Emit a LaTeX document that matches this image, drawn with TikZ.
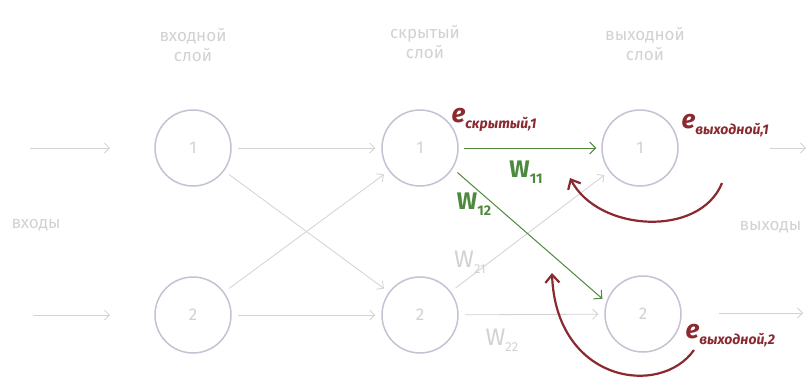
\documentclass[tikz,border=0pt]{standalone}
\usepackage{fontspec}
\setmainfont{Fira Sans}
\usetikzlibrary{arrows.meta,positioning}
\definecolor{fadegray}{HTML}{D2D2D2}
\definecolor{ringgray}{HTML}{C6C2D4}
\definecolor{wgreen}{HTML}{4E8A3E}
\definecolor{errred}{HTML}{8A2A30}
\newcommand{\lowsub}[3]{#1\raisebox{-6pt}{\fontsize{#3}{#3}\selectfont #2}}

\begin{document}
\begin{tikzpicture}[x=1pt,y=-1pt,every node/.style={font=\fontsize{17}{20}\selectfont},
  neuron/.style={circle,draw=ringgray,line width=1.5pt,minimum size=76pt,inner sep=0pt,text=fadegray},
  layer/.style={text=fadegray,align=center},
  faint/.style={draw=fadegray,line width=0.8pt,-{Straight Barb[length=5pt,width=10pt]}},
  link/.style={draw=wgreen,line width=1pt,-{Straight Barb[length=6pt,width=12pt]}},
  back/.style={draw=errred,line width=2.2pt,-{Straight Barb[length=8pt,width=14pt]}},
  wlbl/.style={text=wgreen,font=\fontsize{24}{24}\selectfont\bfseries},
  wfade/.style={text=fadegray,font=\fontsize{24}{24}\selectfont},
  err/.style={text=errred,font=\fontsize{26}{26}\selectfont\bfseries\itshape}]
  \useasboundingbox[fill=white] (0,0) rectangle (812,381);

  % layers
  \node[neuron] (in1) at (193,148) {1};
  \node[neuron] (in2) at (193,315) {2};
  \node[neuron] (hid1) at (420,148) {1};
  \node[neuron] (hid2) at (420,315) {2};
  \node[neuron] (out1) at (640,148) {1};
  \node[neuron] (out2) at (643,314) {2};
  \node[layer] (inlbl) at (193,45) {входной\\слой};
  \node[layer] (hidlbl) at (425,42) {скрытый\\слой};
  \node[layer] (outlbl) at (645,44) {выходной\\слой};
  \node[layer,anchor=west] (xlbl) at (8,225) {входы};
  \node[layer,anchor=west] (ylbl) at (736,227) {выходы};

  % faded links
  \coordinate (x1s) at (30,148); \coordinate (x1e) at (110,148);
  \coordinate (x2s) at (33,315); \coordinate (x2e) at (110,315);
  \coordinate (y1s) at (770,148); \coordinate (y1e) at (806,148);
  \coordinate (y2s) at (719,313); \coordinate (y2e) at (803,313);
  \draw[faint] (x1s) -- (x1e);
  \draw[faint] (x2s) -- (x2e);
  \draw[faint] (y1s) -- (y1e);
  \draw[faint] (y2s) -- (y2e);
  \draw[faint,shorten <=6pt,shorten >=6pt] (in1) -- (hid1);
  \draw[faint,shorten <=6pt,shorten >=6pt] (in1) -- (hid2);
  \draw[faint,shorten <=6pt,shorten >=6pt] (in2) -- (hid1);
  \draw[faint,shorten <=6pt,shorten >=6pt] (in2) -- (hid2);
  \draw[faint,shorten <=6pt,shorten >=6pt] (hid2) -- (out1);
  \draw[faint,shorten <=6pt,shorten >=6pt] (hid2) -- (out2);
  \node[wfade] (w21) at (470,262) {\lowsub{W}{21}{13}};
  \node[wfade] (w22) at (502,340) {\lowsub{W}{22}{13}};

  % weights of the hidden node 1
  \draw[link,shorten <=5pt,shorten >=5pt] (hid1.east) -- (out1.west);
  \draw[link,shorten <=6pt,shorten >=5pt] (hid1.-32) -- (out2.162);
  \node[wlbl] (w11) at (526,172) {\lowsub{W}{11}{14}};
  \node[wlbl] (w12) at (474,204) {\lowsub{W}{12}{14}};

  % errors
  \node[err,anchor=west] (ehid) at (448,120) {\lowsub{e}{скрытый,1}{14}};
  \node[err,anchor=west] (eout1) at (678,126) {\lowsub{e}{выходной,1}{14}};
  \node[err,anchor=west] (eout2) at (682,336) {\lowsub{e}{выходной,2}{14}};
  \coordinate (r1s) at (722,183); \coordinate (r1e) at (570,178);
  \coordinate (r2s) at (694,350); \coordinate (r2e) at (552,273);
  \draw[back] (r1s) .. controls (700,238) and (598,232) .. (r1e);
  \draw[back] (r2s) .. controls (660,398) and (556,382) .. (r2e);
\end{tikzpicture}
\end{document}
